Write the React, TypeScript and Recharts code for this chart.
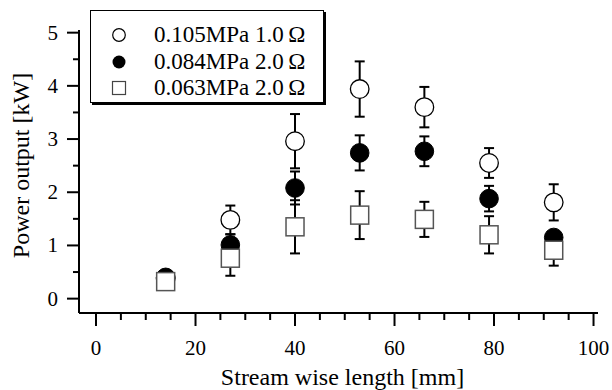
import React from 'react';
import { ScatterChart, Scatter, XAxis, YAxis, ErrorBar, Legend } from 'recharts';

const lengths = [14, 27, 40, 53, 66, 79, 92];
const open105 = [0.38, 1.48, 2.96, 3.94, 3.6, 2.55, 1.81];
const open105Err = [0.08, 0.27, 0.51, 0.52, 0.38, 0.28, 0.34];
const filled084 = [0.4, 1.01, 2.08, 2.74, 2.77, 1.88, 1.15];
const filled084Err = [0.08, 0.2, 0.31, 0.33, 0.28, 0.24, 0.12];
const square063 = [0.32, 0.76, 1.35, 1.57, 1.49, 1.2, 0.91];
const square063Err = [0.08, 0.33, 0.5, 0.45, 0.33, 0.35, 0.29];

const xTicks = [0, 5, 10, 15, 20, 25, 30, 35, 40, 45, 50, 55, 60, 65, 70, 75, 80, 85, 90, 95, 100];
const yTicks = [0, 0.5, 1, 1.5, 2, 2.5, 3, 3.5, 4, 4.5, 5];

const seriesNames = ['0.105MPa 1.0\u2009Ω', '0.084MPa 2.0\u2009Ω', '0.063MPa 2.0\u2009Ω'];

const build = (vals: number[], errs: number[]) =>
  lengths.map((x, i) => ({ x, y: vals[i], err: errs[i] }));

const dataOpen = build(open105, open105Err);
const dataFilled = build(filled084, filled084Err);
const dataSquare = build(square063, square063Err);

const FONT = 'Liberation Serif, Tinos, Times New Roman, DejaVu Serif, serif';

const XTick = (props: any) => {
  const { x, y, payload } = props;
  const v = payload.value;
  const major = v % 20 === 0;
  return (
    <g>
      <line x1={x} x2={x} y1={y} y2={y + (major ? 13 : 7)} stroke="#000" strokeWidth={2} />
      {major && (
        <text x={x} y={y + 42} textAnchor="middle" style={{ fontFamily: FONT, fontSize: 21 }} fill="#000">
          {v}
        </text>
      )}
    </g>
  );
};

const YTick = (props: any) => {
  const { x, y, payload } = props;
  const v = payload.value;
  const major = Number.isInteger(v);
  return (
    <g>
      <line x1={x - (major ? 12 : 6)} x2={x} y1={y} y2={y} stroke="#000" strokeWidth={2} />
      {major && (
        <text x={x - 21} y={y + 7} textAnchor="end" style={{ fontFamily: FONT, fontSize: 21 }} fill="#000">
          {v}
        </text>
      )}
    </g>
  );
};

const XTitle = (props: any) => {
  const { x, y, width } = props.viewBox;
  return (
    <text x={x + width / 2 + 4} y={y + 72} textAnchor="middle" style={{ fontFamily: FONT, fontSize: 24 }} fill="#000">
      Stream wise length [mm]
    </text>
  );
};

const YTitle = (props: any) => {
  const { x, y, height } = props.viewBox;
  const cx = x + 29;
  const cy = y + height / 2 - 6;
  return (
    <text x={cx} y={cy} textAnchor="middle" style={{ fontFamily: FONT, fontSize: 24 }} fill="#000" transform={`rotate(-90, ${cx}, ${cy})`}>
      Power output [kW]
    </text>
  );
};

const OpenCircle = (props: any) => (
  <circle cx={props.cx} cy={props.cy} r={9.3} fill="#fff" stroke="#000" strokeWidth={1.3} />
);
const FilledCircle = (props: any) => (
  <circle cx={props.cx} cy={props.cy} r={9.3} fill="#000" stroke="#000" strokeWidth={1} />
);
const SquareMark = (props: any) => (
  <rect x={props.cx - 9} y={props.cy - 9} width={18} height={18} fill="#fff" stroke="#555" strokeWidth={1.5} />
);

const legendSymbols = [
  <circle cx={8} cy={8} r={6.3} fill="#fff" stroke="#000" strokeWidth={1.2} />,
  <circle cx={8} cy={8} r={6.5} fill="#000" />,
  <rect x={1.5} y={1.5} width={13} height={13} fill="#fff" stroke="#444" strokeWidth={1.2} />,
];

const LegendBox = () => (
  <div
    style={{
      position: 'relative',
      width: 234,
      height: 93,
      boxSizing: 'border-box',
      border: '1.5px solid #000',
      boxShadow: '2px 2px 0 #000',
      background: '#fff',
      fontFamily: FONT,
      fontSize: 23,
      color: '#000',
    }}
  >
    {seriesNames.map((name, i) => (
      <div
        key={name}
        style={{ position: 'absolute', left: 0, top: 11 + i * 26.5, height: 26, display: 'flex', alignItems: 'center', whiteSpace: 'nowrap' }}
      >
        <svg width={16} height={16} style={{ marginLeft: 20, marginRight: 0 }}>
          {legendSymbols[i]}
        </svg>
        <span style={{ marginLeft: 27, lineHeight: '26px' }}>{name}</span>
      </div>
    ))}
  </div>
);

export default function App() {
  return (
    <div style={{ position: 'absolute', left: 0, top: 0, background: '#fff' }}>
      <ScatterChart width={612} height={390} margin={{ top: 30, right: 14, bottom: 0, left: 0 }}>
        <XAxis
          type="number"
          dataKey="x"
          domain={[-3.42, 100.9]}
          ticks={xTicks}
          interval={0}
          tickSize={0}
          tickMargin={0}
          tick={<XTick />}
          axisLine={{ stroke: '#000', strokeWidth: 2 }}
          tickLine={false}
          height={77}
          allowDataOverflow
          label={<XTitle />}
        />
        <YAxis
          type="number"
          dataKey="y"
          domain={[-0.27, 5.05]}
          ticks={yTicks}
          interval={0}
          tickSize={0}
          tickMargin={0}
          tick={<YTick />}
          axisLine={{ stroke: '#000', strokeWidth: 2 }}
          tickLine={false}
          width={79}
          allowDataOverflow
          label={<YTitle />}
        />
        <Legend
          layout="horizontal"
          verticalAlign="middle"
          align="center"
          wrapperStyle={{ left: 90, top: 10, width: 234, height: 93 }}
          content={<LegendBox />}
        />
        <Scatter name={seriesNames[0]} data={dataOpen} shape={<OpenCircle />} isAnimationActive={false}>
          <ErrorBar dataKey="err" direction="y" width={5} stroke="#000" strokeWidth={2} isAnimationActive={false} />
        </Scatter>
        <Scatter name={seriesNames[1]} data={dataFilled} shape={<FilledCircle />} isAnimationActive={false}>
          <ErrorBar dataKey="err" direction="y" width={5} stroke="#000" strokeWidth={2} isAnimationActive={false} />
        </Scatter>
        <Scatter name={seriesNames[2]} data={dataSquare} shape={<SquareMark />} isAnimationActive={false}>
          <ErrorBar dataKey="err" direction="y" width={5} stroke="#000" strokeWidth={2} isAnimationActive={false} />
        </Scatter>
      </ScatterChart>
    </div>
  );
}
